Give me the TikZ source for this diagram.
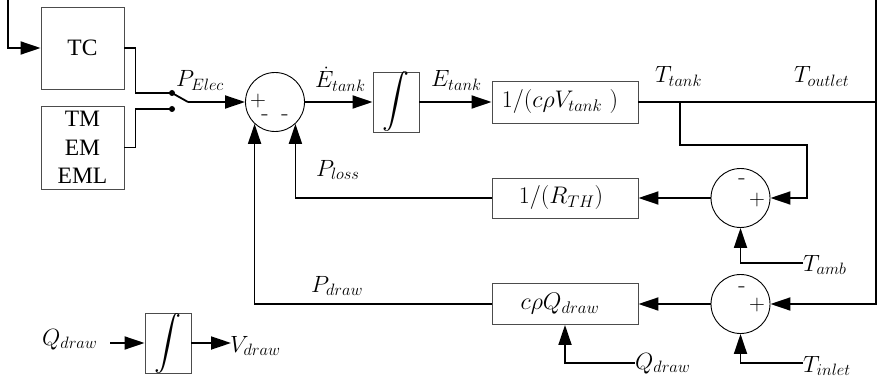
\RequirePackage{fix-cm}
\documentclass[tikz,border=0pt]{standalone}
\usepackage{fontspec}
\newfontfamily\tnr{Liberation Serif}
\usetikzlibrary{arrows.meta,calc}
\begin{document}
\begin{tikzpicture}[x=1pt,y=-1pt,
  wire/.style={line width=1.8pt},
  arr/.style={wire,-{Triangle[length=20pt,width=13pt]}},
  blk/.style={draw=black!70,line width=0.9pt,rectangle,inner sep=0pt},
  sum/.style={draw=black,line width=0.9pt,circle,minimum size=59pt,inner sep=0pt},
  lbl/.style={inner sep=0pt,anchor=base west,font=\fontsize{23.5}{27}\selectfont},
  btxt/.style={font=\fontsize{24}{28}\selectfont},
  ttxt/.style={font=\tnr\fontsize{23.5}{28.5}\selectfont},
  sgnp/.style={inner sep=0pt,font=\fontsize{22}{24}\selectfont},
  sgnm/.style={inner sep=0pt,font=\fontsize{24}{26}\selectfont},
  contact/.style={circle,fill=black,inner sep=0pt,minimum size=6pt},
  integ/.style={blk,minimum width=46pt,font=\fontsize{10}{12}\selectfont}
]
\useasboundingbox (0,0) rectangle (881,385);

% blocks
\node[blk,ttxt,minimum width=83pt,minimum height=82pt] (tc) at (82.5,48) {TC};
\node[blk,ttxt,minimum width=83pt,minimum height=83pt,align=center] (tm) at (82.5,147.5) {TM\\EM\\EML};
\node[sum] (s1) at (275,102) {};
\node[integ,minimum height=59pt] (int1) at (396,102) {\scalebox{2.7}{$\displaystyle\int$}};
\node[blk,btxt,minimum width=146pt,minimum height=42pt] (g1) at (565,102) {$1/(c\rho V_{tank}\ )$\hspace*{10pt}};
\node[blk,btxt,minimum width=146pt,minimum height=40pt] (g2) at (565,198) {$1/(R_{TH})$\hspace*{8pt}};
\node[blk,btxt,minimum width=146pt,minimum height=41pt] (g3) at (565,304) {$c\rho Q_{draw}$\hspace*{10pt}};
\node[sum] (s2) at (740.5,198) {};
\node[sum] (s3) at (740.5,304) {};
\node[integ,minimum height=60pt] (int2) at (168,343) {\scalebox{2.7}{$\displaystyle\int$}};

% signs
\node[sgnp] (s1p) at (258,101) {$+$};
\node[sgnm] (s1ma) at (265,118) {-};
\node[sgnm] (s1mb) at (285,118) {-};
\node[sgnm] (s2m) at (742,182) {-};
\node[sgnp] (s2p) at (757,200) {$+$};
\node[sgnm] (s3m) at (742,290) {-};
\node[sgnp] (s3p) at (757,305) {$+$};

% labels
\node[lbl] (lPE) at (176,87) {$P_{Elec}$};
\node[lbl] (lEd) at (315,88) {$\dot{E}_{tank}$};
\node[lbl] (lE) at (431,87) {$E_{tank}$};
\node[lbl] (lTt) at (655,83) {$T_{tank}$};
\node[lbl] (lTo) at (794,83) {$T_{outlet}$};
\node[lbl] (lPl) at (316,176) {$P_{loss}$};
\node[lbl] (lPd) at (311,292) {$P_{draw}$};
\node[lbl] (lTa) at (803,271) {$T_{amb}$};
\node[lbl] (lTi) at (803,372) {$T_{inlet}$};
\node[lbl] (lQr) at (635,369) {$Q_{draw}$};
\node[lbl] (lQl) at (42,345) {$Q_{draw}$};
\node[lbl] (lV) at (230,352) {$V_{draw}$};

% coordinates
\coordinate (fb) at (8,0);
\coordinate (rtop) at (876,0);
\coordinate (sw) at (188,102);
\coordinate (tap) at (680,102);
\coordinate (tamb) at (803,263);
\coordinate (tinl) at (803,363);
\coordinate (qd) at (635,363);
\coordinate (qin) at (110,343);
\coordinate (vout) at (231,343);
\node[contact] (ca) at (172,93) {};
\node[contact] (cb) at (172,109) {};

% wires
\draw[arr] (fb) |- (tc.west);
\draw[wire] (tc.east) -- ++(11,0) |- (ca.center);
\draw[wire] (tm.east) -- ++(11,0) |- (cb.center);
\draw[wire] (ca.center) -- (sw);
\draw[arr] (sw) -- (s1.west);
\draw[arr] (s1.east) -- (int1.west);
\draw[arr] (int1.east) -- (g1.west);
\draw[wire] (g1.east) -- (g1.east -| rtop);
\draw[arr] (rtop) |- (s3.east);
\draw[arr] (tap) |- (807,145) |- (s2.east);
\draw[arr] (s2.west) -- (g2.east);
\draw[arr] (g2.west) -| (s1.313);
\draw[arr] (tamb) -| (s2.south);
\draw[arr] (s3.west) -- (g3.east);
\draw[arr] (g3.west) -| (s1.227);
\draw[arr] (tinl) -| (s3.south);
\draw[arr] (qd) -| (g3.south);
\draw[arr] (qin) -- (int2.west);
\draw[arr] (int2.east) -- (vout);
\end{tikzpicture}
\end{document}
